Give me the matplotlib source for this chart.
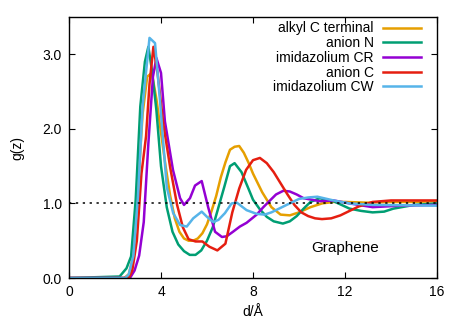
import matplotlib
matplotlib.use("Agg")
import matplotlib.pyplot as plt

plt.rcParams['font.family'] = ['Liberation Sans', 'DejaVu Sans']

# alkyl C terminal
alkyl_x = [0, 2.4, 2.6, 2.8, 3.0, 3.2, 3.4, 3.6, 3.8, 4.0, 4.2, 4.4, 4.6, 4.8, 5.0, 5.2, 5.4, 5.6, 5.8,
           6.0, 6.2, 6.4, 6.6, 6.8, 7.0, 7.2, 7.4, 7.6, 7.8, 8.0, 8.4, 8.8, 9.2, 9.6, 10.0, 10.5, 11.0,
           11.5, 12, 13, 14, 15, 16]
alkyl_y = [0, 0.0, 0.05, 0.3, 1.2, 2.2, 2.7, 2.75, 2.4, 1.95, 1.5, 1.1, 0.8, 0.62, 0.53, 0.5, 0.5, 0.53, 0.6,
           0.72, 0.9, 1.1, 1.35, 1.55, 1.72, 1.76, 1.77, 1.68, 1.55, 1.4, 1.15, 0.95, 0.85, 0.84, 0.88, 0.95, 1.0,
           1.02, 1.02, 1.01, 1.02, 1.02, 1.03]

# anion N
anN_x = [0, 2.2, 2.5, 2.7, 2.9, 3.1, 3.3, 3.45, 3.6, 3.8, 4.0, 4.25, 4.5, 4.75, 5.0, 5.25, 5.5, 5.75, 6.0,
         6.25, 6.5, 6.75, 7.0, 7.2, 7.5, 7.8, 8.0, 8.3, 8.6, 8.9, 9.3, 9.6, 9.9, 10.2, 10.5, 10.9, 11.5,
         12.2, 12.7, 13.2, 13.7, 14.1, 15, 16]
anN_y = [0, 0.02, 0.13, 0.29, 1.05, 2.3, 2.9, 3.1, 2.8, 2.25, 1.5, 0.95, 0.62, 0.45, 0.36, 0.31, 0.31, 0.37, 0.5,
         0.68, 0.95, 1.22, 1.5, 1.54, 1.42, 1.2, 1.05, 0.92, 0.82, 0.76, 0.73, 0.76, 0.83, 0.93, 1.02, 1.07, 1.03,
         0.93, 0.9, 0.88, 0.89, 0.93, 0.98, 1.0]

# imidazolium CR
imCR_x = [0, 2.65, 2.85, 3.05, 3.25, 3.45, 3.65, 3.8, 4.0, 4.17, 4.52, 4.83, 5.0, 5.26, 5.48, 5.77, 6.05,
          6.35, 6.65, 6.86, 7.13, 7.43, 7.72, 8.16, 8.45, 8.74, 9.0, 9.32, 9.6, 9.9, 10.2, 10.9, 11.5,
          12.2, 13.2, 14.4, 16]
imCR_y = [0, 0.0, 0.1, 0.3, 0.75, 1.8, 2.7, 2.95, 2.75, 2.1, 1.45, 1.07, 0.98, 1.07, 1.24, 1.3, 0.95,
          0.62, 0.55, 0.56, 0.62, 0.69, 0.74, 0.85, 0.95, 1.04, 1.12, 1.17, 1.16, 1.12, 1.07, 1.03, 1.04,
          1.0, 0.95, 0.97, 0.98]

# anion C
anC_x = [0, 2.6, 2.75, 2.95, 3.15, 3.35, 3.5, 3.67, 3.85, 4.1, 4.4, 4.7, 4.95, 5.2, 5.5, 5.8, 6.1, 6.45,
         6.8, 7.1, 7.4, 7.7, 8.0, 8.3, 8.6, 8.9, 9.2, 9.5, 9.8, 10.1, 10.4, 10.7, 11.0, 11.4, 11.8, 12.2,
         12.6, 13.2, 14, 15, 16]
anC_y = [0, 0.0, 0.1, 0.5, 1.4, 1.9, 2.6, 3.1, 2.75, 2.07, 1.48, 0.98, 0.68, 0.52, 0.49, 0.49, 0.42, 0.37,
         0.46, 0.88, 1.2, 1.45, 1.58, 1.61, 1.54, 1.42, 1.27, 1.12, 0.98, 0.88, 0.83, 0.8, 0.79, 0.8, 0.84, 0.9,
         0.96, 1.02, 1.04, 1.04, 1.04]

# imidazolium CW
imCW_x = [0, 2.45, 2.6, 2.8, 3.0, 3.2, 3.5, 3.74, 3.95, 4.25, 4.53, 4.83, 5.12, 5.4, 5.77, 6.0, 6.27,
          6.5, 6.78, 7.07, 7.3, 7.72, 8.16, 8.5, 8.8, 9.46, 10.0, 10.4, 10.8, 11.5, 12.2, 13.2, 16]
imCW_y = [0, 0.0, 0.05, 0.3, 1.1, 2.3, 3.22, 3.15, 2.4, 1.22, 0.87, 0.71, 0.69, 0.8, 0.89, 0.82, 0.75,
          0.78, 0.87, 1.0, 1.01, 0.91, 0.86, 0.85, 0.88, 0.98, 1.06, 1.08, 1.09, 1.04, 1.0, 0.98, 0.97]

series = [
    ("alkyl C terminal", alkyl_x, alkyl_y, "#e69f00"),
    ("anion N", anN_x, anN_y, "#009e73"),
    ("imidazolium CR", imCR_x, imCR_y, "#9400d3"),
    ("anion C", anC_x, anC_y, "#e51e10"),
    ("imidazolium CW", imCW_x, imCW_y, "#56b4e9"),
]

fig = plt.figure(figsize=(4.63, 3.24), dpi=100)
ax = fig.add_axes([69 / 463, 1 - 278 / 324, 368 / 463, 261 / 324])

for label, xs, ys, col in series:
    ax.plot(xs, ys, color=col, lw=1.8, label=label)

ax.axhline(1.0, color="black", ls=(0, (1.5, 3)), lw=1.1)

ax.set_xlim(0, 16)
ax.set_ylim(0, 3.5)
ax.set_xticks([0, 4, 8, 12, 16])
ax.set_yticks([0, 1, 2, 3])
ax.set_yticklabels(["0.0", "1.0", "2.0", "3.0"])
ax.tick_params(direction="in", top=True, right=True, labelsize=10, length=4, width=0.8, pad=5)
for sp in ax.spines.values():
    sp.set_linewidth(1.0)

ax.set_xlabel("d/Å", fontsize=10, labelpad=4)
ax.set_ylabel("g(z)", fontsize=10, labelpad=13)
ax.text(12, 0.40, "Graphene", fontsize=11, ha="center", va="center")

ax.legend(loc="upper right", bbox_to_anchor=(0.956, 0.983), frameon=False, markerfirst=False,
          fontsize=10, handlelength=2.7, handletextpad=0.7, labelspacing=0.05,
          borderaxespad=0, borderpad=0)

fig.savefig("out.png", dpi=100)
